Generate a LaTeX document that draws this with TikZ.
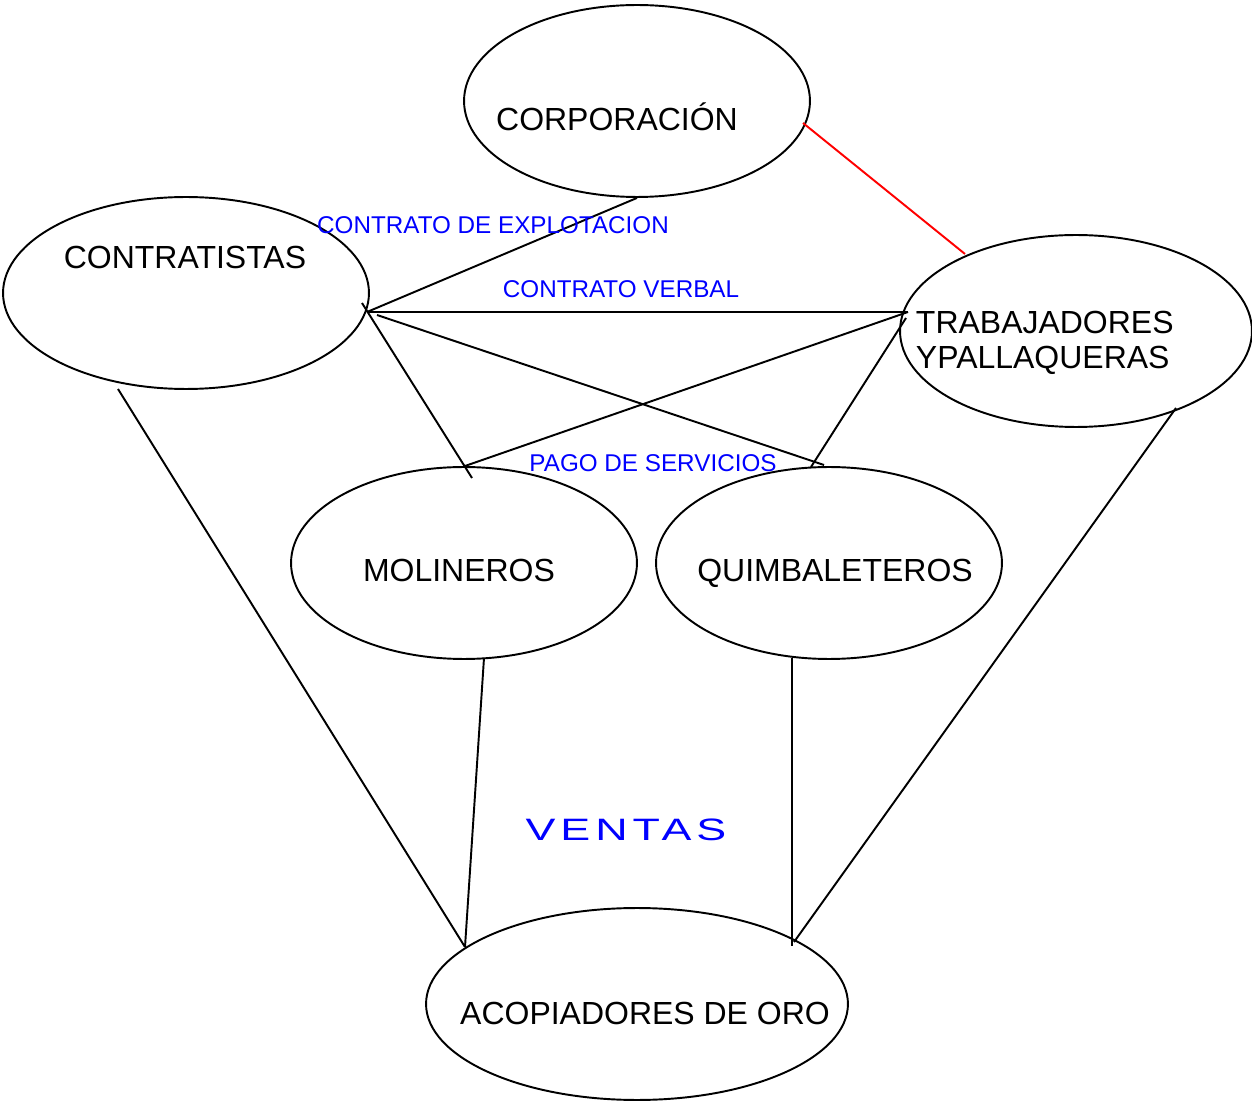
\documentclass[tikz,border=0pt]{standalone}
\usepackage{fontspec}
\setmainfont{Liberation Sans}
\usetikzlibrary{shapes.geometric}
\begin{document}
\begin{tikzpicture}[x=0.02cm, y=-0.02cm, line width=1.1pt,
    elip/.style = {draw, ellipse, inner sep=0pt, minimum height=3.84cm},
    txt/.style  = {anchor=base, inner sep=0pt, font=\fontsize{18.2}{20.4}\selectfont},
    rel/.style  = {anchor=base, inner sep=0pt, text=blue, font=\fontsize{13.8}{16}\selectfont}]
    \useasboundingbox (0,0) rectangle (1252,1101);
    % actores
    \node[elip, minimum width=6.92cm] (corp)  at (637,101)  {};
    \node[elip, minimum width=7.32cm] (contr) at (186,293)  {};
    \node[elip, minimum width=7.04cm] (trab)  at (1076,331) {};
    \node[elip, minimum width=6.92cm] (mol)   at (464,563)  {};
    \node[elip, minimum width=6.92cm] (quim)  at (829,563)  {};
    \node[elip, minimum width=8.44cm] (acop)  at (637,1004) {};
    \node[txt] (corptxt)  at (617,131)  {CORPORACIÓN};
    \node[txt] (contrtxt) at (185,269)  {CONTRATISTAS};
    \node[txt, anchor=base west, align=left] (trabtxt) at (915,369) {TRABAJADORES\\YPALLAQUERAS};
    \node[txt] (moltxt)   at (459,582)  {MOLINEROS};
    \node[txt] (quimtxt)  at (835,582)  {QUIMBALETEROS};
    \node[txt] (acoptxt)  at (645,1024) {ACOPIADORES DE ORO};
    % puntos de union
    \coordinate (cA) at (367,312);
    \coordinate (cB) at (362,303);
    \coordinate (cC) at (377,315);
    \coordinate (cD) at (118,389);
    \coordinate (tA) at (908,312);
    \coordinate (tB) at (906,318);
    \coordinate (tC) at (1176,408);
    \coordinate (tD) at (965,254);
    \coordinate (pA) at (803,123);
    \coordinate (mA) at (472,478);
    \coordinate (mB) at (465,466);
    \coordinate (mC) at (484,658);
    \coordinate (qA) at (824,465);
    \coordinate (qB) at (811,467);
    \coordinate (qC) at (792,658);
    \coordinate (aA) at (465,947);
    \coordinate (aB) at (792,946);
    \coordinate (aC) at (794,942);
    % relaciones
    \draw (corp.south) -- (cA);
    \draw (cA) -- (tA);
    \draw (cB) -- (mA);
    \draw (cC) -- (qA);
    \draw (tA) -- (mB);
    \draw (tB) -- (qB);
    \draw (cD) -- (aA);
    \draw (mC) -- (aA);
    \draw (qC) -- (aB);
    \draw (tC) -- (aC);
    \draw[red] (pA) -- (tD);
    \node[rel] (explot) at (493,234) {CONTRATO DE EXPLOTACION};
    \node[rel] (verbal) at (621,298) {CONTRATO VERBAL};
    \node[rel] (pago)   at (653,472) {PAGO DE SERVICIOS};
    \node[rel, font=\fontsize{17.6}{20}\selectfont\addfontfeature{FakeStretch=1.45,LetterSpace=16}] (ventas) at (626,840) {VENTAS};
\end{tikzpicture}
\end{document}
